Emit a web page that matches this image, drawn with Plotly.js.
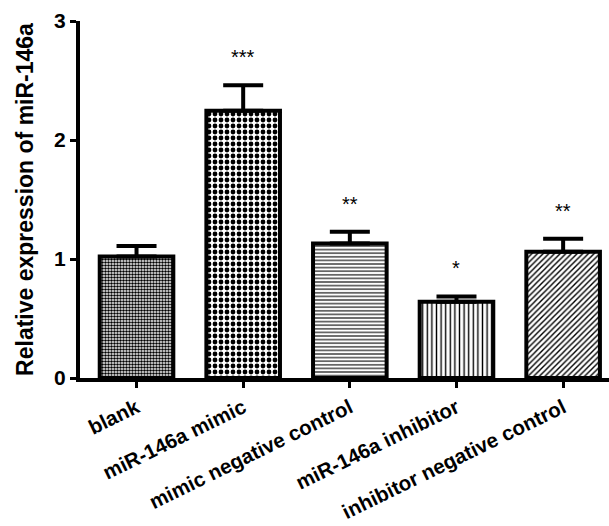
<!DOCTYPE html>
<html>
<head>
<meta charset="utf-8">
<script src="https://cdn.plot.ly/plotly-3.0.1.min.js"></script>
<style>
html,body{margin:0;padding:0;background:#fff;}
#chart{width:609px;height:526px;}
</style>
</head>
<body>
<div id="chart"></div>
<script>
// ---- data ----
const categories = ["blank", "miR-146a mimic", "mimic negative control", "miR-146a inhibitor", "inhibitor negative control"];
const values = [1.02, 2.245, 1.13, 0.64, 1.06];
const errors = [0.09, 0.215, 0.10, 0.045, 0.11];
const significance = ["", "***", "**", "*", "**"];
const yTicks = [0, 1, 2, 3];

// ---- styling ----
const patternShapes = [".", ".", "-", "|", "/"];
const patternSizes = [3, 6, 3.6, 4.6, 4];
const patternSolidity = [0.55, 0.5, 0.3, 0.3, 0.35];
const FONT = "Liberation Sans, Arial, sans-serif";

const idx = categories.map((_, i) => i);

const bars = {
  type: "bar",
  x: idx,
  y: values,
  width: 0.69,
  marker: {
    color: "#ffffff",
    line: {color: "#000000", width: 4},
    pattern: {
      shape: patternShapes,
      size: patternSizes,
      solidity: patternSolidity,
      fgcolor: "#000000",
      bgcolor: "#ffffff",
      fillmode: "replace"
    }
  },
  error_y: {
    type: "data",
    symmetric: false,
    array: errors,
    arrayminus: errors.map(() => 0),
    color: "#000000",
    thickness: 4,
    width: 20,
    visible: true
  },
  hoverinfo: "none",
  showlegend: false
};

const annotations = idx.filter(i => significance[i]).map(i => ({
  x: i,
  y: values[i] + errors[i],
  xref: "x",
  yref: "y",
  text: significance[i],
  showarrow: false,
  yshift: 28,
  font: {family: FONT, size: 20, color: "#000000"}
}));

const layout = {
  width: 609,
  height: 526,
  margin: {l: 80, r: 0, t: 21, b: 148, pad: 0},
  paper_bgcolor: "#ffffff",
  plot_bgcolor: "#ffffff",
  xaxis: {
    range: [-0.53, 4.43],
    tickmode: "array",
    tickvals: idx,
    ticktext: categories,
    tickangle: -26,
    ticks: "outside",
    ticklen: 6,
    tickwidth: 3,
    tickcolor: "#000000",
    ticklabelstandoff: 0,
    showline: true,
    linewidth: 4,
    linecolor: "#000000",
    showgrid: false,
    zeroline: false,
    tickfont: {family: FONT, size: 20.5, color: "#000000", weight: "bold"}
  },
  yaxis: {
    range: [0, 3],
    tickmode: "array",
    tickvals: yTicks,
    ticktext: yTicks.map(String),
    ticks: "outside",
    ticklen: 6,
    tickwidth: 3,
    tickcolor: "#000000",
    showline: true,
    linewidth: 4,
    linecolor: "#000000",
    showgrid: false,
    zeroline: false,
    tickfont: {family: FONT, size: 21, color: "#000000", weight: "bold"},
    title: {
      text: "Relative expression of miR-146a",
      font: {family: FONT, size: 23, color: "#000000", weight: "bold"},
      standoff: 15
    }
  },
  annotations: annotations
};

Plotly.newPlot("chart", [bars], layout, {staticPlot: true, displayModeBar: false});
</script>
</body>
</html>
